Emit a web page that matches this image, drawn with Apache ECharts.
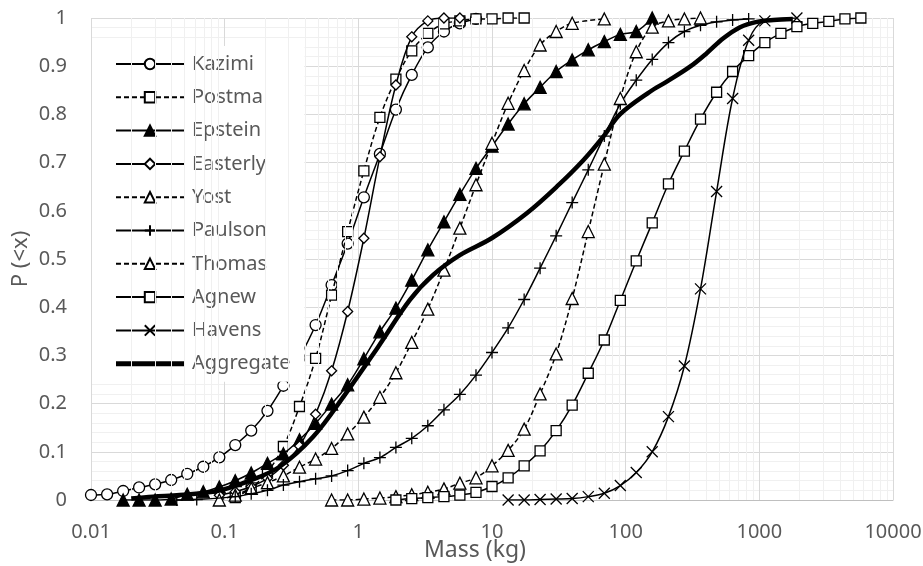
<!DOCTYPE html>
<html>
<head>
<meta charset="utf-8">
<script src="https://cdn.jsdelivr.net/npm/echarts@6/dist/echarts.min.js"></script>
<style>
html,body{margin:0;padding:0;background:#fff;}
#chart{width:923px;height:566px;}
</style>
</head>
<body>
<div id="chart"></div>
<script>
// Mass (kg) vs cumulative probability P(<x)
const xTicks = ['0.01', '0.1', '1', '10', '100', '1000', '10000'];
const yTicks = ['0', '0.1', '0.2', '0.3', '0.4', '0.5', '0.6', '0.7', '0.8', '0.9', '1'];
const seriesNames = ['Kazimi', 'Postma', 'Epstein', 'Easterly', 'Yost', 'Paulson', 'Thomas', 'Agnew', 'Havens', 'Aggregate'];

const kazimi = [[0.01,0.0104],[0.0132,0.0118],[0.0174,0.0187],[0.0229,0.026],[0.0302,0.0325],[0.0398,0.0415],[0.0525,0.054],[0.0692,0.069],[0.0912,0.0886],[0.120,0.114],[0.158,0.144],[0.209,0.185],[0.275,0.237],[0.363,0.295],[0.479,0.363],[0.631,0.446],[0.832,0.532],[1.10,0.628],[1.45,0.718],[1.91,0.810],[2.51,0.882],[3.31,0.939],[4.37,0.972],[5.75,0.989],[7.59,0.998]];
const postma = [[0.120,0.005],[0.158,0.025],[0.209,0.058],[0.275,0.111],[0.363,0.194],[0.479,0.294],[0.631,0.425],[0.832,0.557],[1.10,0.683],[1.45,0.794],[1.91,0.873],[2.51,0.932],[3.31,0.968],[4.37,0.988],[5.75,0.994],[7.59,0.998],[10.0,0.998],[13.2,1.0],[17.4,1.0]];
const epstein = [[0.0174,0.0],[0.0229,0.0],[0.0302,0.0],[0.0398,0.002],[0.0525,0.012],[0.0692,0.017],[0.0912,0.027],[0.120,0.040],[0.158,0.056],[0.209,0.076],[0.275,0.096],[0.363,0.125],[0.479,0.159],[0.631,0.199],[0.832,0.239],[1.10,0.293],[1.45,0.349],[1.91,0.398],[2.51,0.456],[3.31,0.519],[4.37,0.577],[5.75,0.634],[7.59,0.688],[10.0,0.734],[13.2,0.780],[17.4,0.822],[22.9,0.856],[30.2,0.889],[39.8,0.913],[52.5,0.934],[69.2,0.951],[91.2,0.966],[120,0.972],[158,1.0]];
const easterly = [[0.0912,0.010],[0.120,0.017],[0.158,0.028],[0.209,0.045],[0.275,0.072],[0.363,0.112],[0.479,0.178],[0.631,0.268],[0.832,0.391],[1.10,0.543],[1.45,0.712],[1.91,0.861],[2.51,0.961],[3.31,0.994],[4.37,1.0],[5.75,1.0]];
const yost = [[0.0912,0.0],[0.120,0.010],[0.158,0.024],[0.209,0.036],[0.275,0.050],[0.363,0.068],[0.479,0.085],[0.631,0.107],[0.832,0.137],[1.10,0.172],[1.45,0.213],[1.91,0.264],[2.51,0.327],[3.31,0.396],[4.37,0.477],[5.75,0.564],[7.59,0.654],[10.0,0.740],[13.2,0.823],[17.4,0.891],[22.9,0.944],[30.2,0.972],[39.8,0.989],[69.2,0.998]];
const paulson = [[0.0438,0.0],[0.0618,0.001],[0.120,0.007],[0.158,0.013],[0.209,0.020],[0.275,0.031],[0.363,0.038],[0.479,0.044],[0.631,0.050],[0.832,0.061],[1.10,0.076],[1.45,0.088],[1.91,0.109],[2.51,0.128],[3.31,0.154],[4.37,0.187],[5.75,0.219],[7.59,0.259],[10.0,0.306],[13.2,0.357],[17.4,0.416],[22.9,0.481],[30.2,0.548],[39.8,0.617],[52.5,0.685],[69.2,0.755],[91.2,0.822],[120,0.871],[158,0.914],[209,0.949],[275,0.972],[363,0.985],[479,0.992],[631,0.996],[832,0.998]];
const thomas = [[0.631,0.0],[0.832,0.0],[1.10,0.002],[1.45,0.004],[1.91,0.007],[2.51,0.011],[3.31,0.016],[4.37,0.023],[5.75,0.035],[7.59,0.046],[10.0,0.071],[13.2,0.103],[17.4,0.147],[22.9,0.220],[30.2,0.303],[39.8,0.418],[52.5,0.557],[69.2,0.697],[91.2,0.833],[120,0.930],[158,0.981],[209,0.994],[275,0.998],[363,1.0]];
const agnew = [[1.91,0.0],[2.51,0.003],[3.31,0.005],[4.37,0.007],[5.75,0.010],[7.59,0.016],[10.0,0.028],[13.2,0.046],[17.4,0.071],[22.9,0.102],[30.2,0.144],[39.8,0.197],[52.5,0.263],[69.2,0.332],[91.2,0.414],[120,0.496],[158,0.575],[209,0.656],[275,0.724],[363,0.790],[479,0.846],[631,0.889],[832,0.922],[1100,0.949],[1450,0.968],[1910,0.982],[2510,0.989],[3310,0.993],[4370,0.998],[5750,1.0]];
const havens = [[13.2,0.0],[17.4,0.0],[22.9,0.001],[30.2,0.002],[39.8,0.003],[52.5,0.007],[69.2,0.014],[91.2,0.030],[120,0.057],[158,0.100],[209,0.173],[275,0.278],[363,0.438],[479,0.640],[631,0.833],[832,0.954],[1100,0.994],[1910,1.0]];
const aggregate = [[0.02,0.003],[0.0291,0.007],[0.0461,0.0104],[0.0893,0.019],[0.154,0.040],[0.258,0.069],[0.459,0.131],[0.792,0.218],[1.41,0.318],[2.43,0.415],[3.63,0.467],[5.75,0.508],[9.93,0.543],[18.2,0.595],[30.5,0.650],[48.2,0.705],[68,0.754],[90.6,0.800],[152,0.847],[203,0.868],[303,0.899],[404,0.927],[538,0.958],[718,0.981],[957,0.992],[1274,0.996],[1780,0.998]];

const seriesData = [kazimi, postma, epstein, easterly, yost, paulson, thomas, agnew, havens, aggregate];

const FONT = 'Noto Sans';
const TXT = '#595959';
const PLUS = 'path://M5,0L5,10M0,5L10,5';
const CROSS = 'path://M0,0L10,10M10,0L0,10';

const styles = [
  {symbol: 'circle', size: 11, dash: 'solid', fill: '#fff'},
  {symbol: 'rect', size: 10, dash: [5, 3], fill: '#fff'},
  {symbol: 'triangle', size: 12, dash: 'solid', fill: '#000'},
  {symbol: 'diamond', size: 10, dash: 'solid', fill: '#fff'},
  {symbol: 'triangle', size: 12, dash: [5, 3], fill: '#fff'},
  {symbol: PLUS, size: 12, dash: 'solid', fill: 'none'},
  {symbol: 'triangle', size: 12, dash: [5, 3], fill: '#fff'},
  {symbol: 'rect', size: 10, dash: 'solid', fill: '#fff'},
  {symbol: CROSS, size: 11, dash: 'solid', fill: 'none'},
  {symbol: 'none', size: 0, dash: 'solid', fill: '#000', width: 4.5}
];

// minor vertical gridlines (2..9 per decade) – styling only
const minorX = [];
for (let e = -2; e <= 3; e++) {
  for (let m = 2; m <= 9; m++) minorX.push(m * Math.pow(10, e));
}

const series = seriesNames.map(function (name, i) {
  const s = styles[i];
  return {
    name: name,
    type: 'line',
    data: seriesData[i],
    smooth: 0.35,
    symbol: s.symbol,
    symbolSize: s.size,
    showSymbol: s.symbol !== 'none',
    z: 3 + i,
    lineStyle: {color: '#000', width: s.width || 1.5, type: s.dash},
    itemStyle: {color: s.fill, borderColor: '#000', borderWidth: 1.3},
    emphasis: {disabled: true}
  };
});

series.push({
  name: 'minorGrid',
  type: 'line',
  data: [],
  z: 1,
  silent: true,
  markLine: {
    silent: true,
    symbol: ['none', 'none'],
    animation: false,
    label: {show: false},
    lineStyle: {color: '#f0f0f0', type: 'solid', width: 1},
    emphasis: {disabled: true},
    data: minorX.map(function (v) { return {xAxis: v}; })
  }
});

const legendData = seriesNames.map(function (n) {
  if (n === 'Aggregate') {
    return {name: n, icon: 'path://M0,0H68V5H0Z', itemStyle: {color: '#000', borderWidth: 0}};
  }
  return {name: n};
});

const chart = echarts.init(document.getElementById('chart'), null, {renderer: 'canvas'});
chart.setOption({
  animation: false,
  backgroundColor: '#fff',
  textStyle: {fontFamily: FONT},
  grid: {left: 91, right: 30, top: 18, bottom: 66, containLabel: false, outerBoundsMode: 'none'},
  legend: {
    data: legendData,
    orient: 'vertical',
    left: 92,
    top: 46,
    padding: [6, 14, 6, 23],
    backgroundColor: '#fff',
    itemWidth: 68,
    itemHeight: 13,
    itemGap: 9.3,
    selectedMode: false,
    textStyle: {fontFamily: FONT, fontSize: 20, color: TXT, lineHeight: 24, padding: [0, 0, 0, 3]}
  },
  xAxis: {
    type: 'log',
    logBase: 10,
    min: 0.01,
    max: 10000,
    name: 'Mass (kg)',
    nameLocation: 'middle',
    nameMoveOverlap: false,
    nameGap: 39,
    nameTextStyle: {fontFamily: FONT, fontSize: 23, color: TXT, padding: [0, 34, 0, 0]},
    axisLine: {show: true, lineStyle: {color: '#bfbfbf', width: 1}},
    axisTick: {show: false},
    axisLabel: {
      fontFamily: FONT, fontSize: 20, color: TXT, margin: 22,
      formatter: function (v) {
        const idx = Math.round(Math.log10(v)) + 2;
        return xTicks[idx] !== undefined ? xTicks[idx] : '';
      }
    },
    splitLine: {show: true, lineStyle: {color: '#d9d9d9', width: 1}}
  },
  yAxis: {
    type: 'value',
    min: 0,
    max: 1,
    interval: 0.1,
    name: 'P (<x)',
    nameLocation: 'middle',
    nameMoveOverlap: false,
    nameGap: 59,
    nameRotate: 90,
    nameTextStyle: {fontFamily: FONT, fontSize: 22, color: TXT},
    axisLine: {show: false},
    axisTick: {show: false},
    axisLabel: {
      fontFamily: FONT, fontSize: 20, color: TXT, margin: 24,
      formatter: function (v) {
        const idx = Math.round(v * 10);
        return yTicks[idx];
      }
    },
    splitLine: {show: true, lineStyle: {color: '#d9d9d9', width: 1}},
    minorTick: {show: false, splitNumber: 5},
    minorSplitLine: {show: true, lineStyle: {color: '#f0f0f0', width: 1}}
  },
  series: series
});
</script>
</body>
</html>
